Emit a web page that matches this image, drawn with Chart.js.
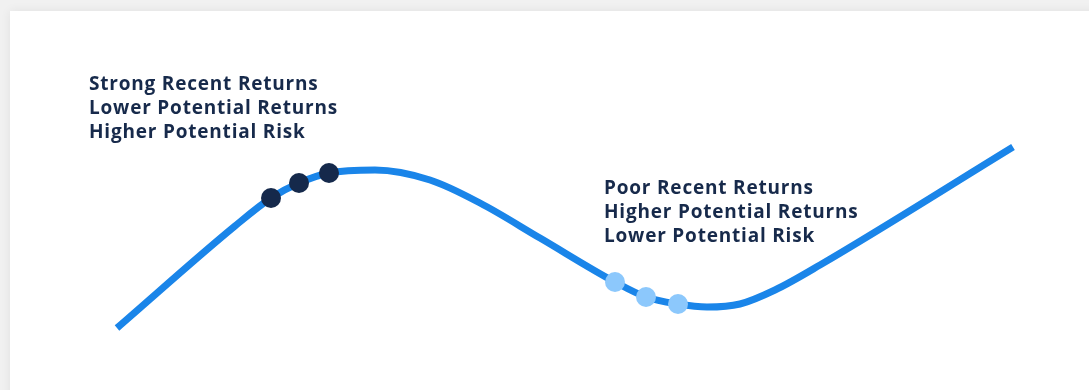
<!DOCTYPE html>
<html>
<head>
<meta charset="utf-8">
<script src="https://cdn.jsdelivr.net/npm/chart.js@4.4.0/dist/chart.umd.min.js"></script>
<style>
  html, body { margin: 0; padding: 0; }
  body { width: 1089px; height: 390px; overflow: hidden; background: #f1f1f1; position: relative; }
  .card { position: absolute; left: 10px; top: 11px; width: 1100px; height: 400px; background: #fff;
          box-shadow: 0 0 10px rgba(0,0,0,0.07); }
  .wrap { position: absolute; left: 0; top: 0; width: 1089px; height: 390px; }
  .note { position: absolute; font-family: "Open Sans", sans-serif; font-weight: 700; font-size: 19px;
          line-height: 24px; color: #172a4b; letter-spacing: 0.8px; white-space: nowrap; }
</style>
</head>
<body>
<div class="card"></div>
<div class="wrap"><canvas id="cycle"></canvas></div>
<div class="note" id="noteHigh" style="left:89px; top:71px;"></div>
<div class="note" id="noteLow" style="left:604px; top:175px;"></div>
<script>
// market cycle curve (x = time, y = level)
const cycleX = [117, 235, 271, 299, 329, 375, 430, 480, 540, 615, 646, 678, 707, 740, 775, 820, 1013];
const cycleY = [62, 164, 192, 207, 217, 220, 210, 187, 152, 108, 93, 86, 83, 86, 100, 125, 243];

// highlighted points
const peakX = [271, 299, 329];
const peakY = [192, 207, 217];
const troughX = [615, 646, 678];
const troughY = [108, 93, 86];

const highText = ['Strong Recent Returns', 'Lower Potential Returns', 'Higher Potential Risk'];
const lowText = ['Poor Recent Returns', 'Higher Potential Returns', 'Lower Potential Risk'];

document.getElementById('noteHigh').innerHTML = highText.join('<br>');
document.getElementById('noteLow').innerHTML = lowText.join('<br>');

const toPoints = (xs, ys) => xs.map((x, i) => ({ x: x, y: ys[i] }));

new Chart(document.getElementById('cycle'), {
  type: 'line',
  data: {
    datasets: [
      {
        label: 'Peak',
        data: toPoints(peakX, peakY),
        showLine: false,
        pointRadius: 10,
        pointBackgroundColor: '#15294b',
        pointBorderWidth: 0,
        order: 0
      },
      {
        label: 'Trough',
        data: toPoints(troughX, troughY),
        showLine: false,
        pointRadius: 10,
        pointBackgroundColor: '#8cc8fc',
        pointBorderWidth: 0,
        order: 0
      },
      {
        label: 'Cycle',
        data: toPoints(cycleX, cycleY),
        borderColor: '#1a85e9',
        borderWidth: 7,
        borderCapStyle: 'butt',
        cubicInterpolationMode: 'monotone',
        pointRadius: 0,
        fill: false,
        order: 1
      }
    ]
  },
  options: {
    responsive: true,
    maintainAspectRatio: false,
    animation: false,
    layout: { padding: 0, autoPadding: false },
    plugins: { legend: { display: false }, tooltip: { enabled: false } },
    scales: {
      x: { type: 'linear', min: 0, max: 1089, display: false },
      y: { type: 'linear', min: 0, max: 390, display: false }
    }
  }
});
</script>
</body>
</html>
